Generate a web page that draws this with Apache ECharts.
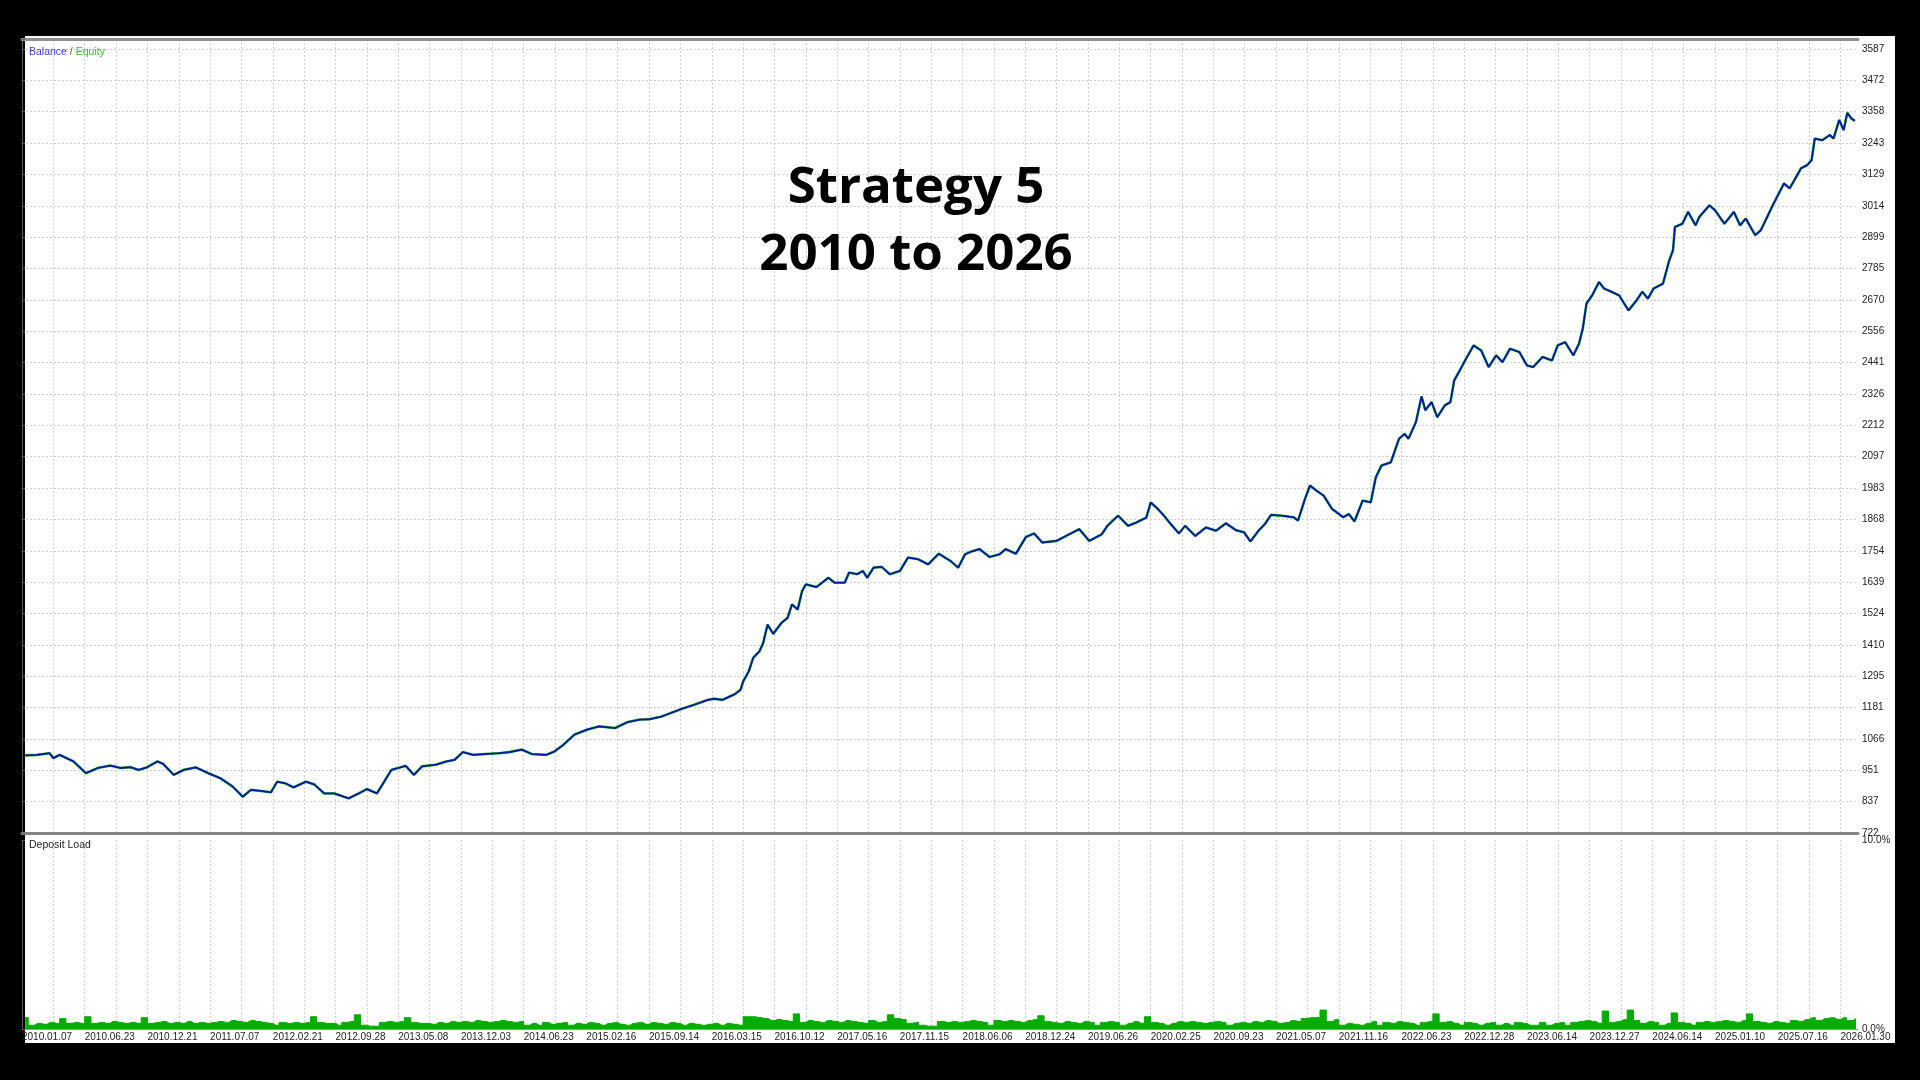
<!DOCTYPE html>
<html>
<head>
<meta charset="utf-8">
<title>Strategy 5</title>
<script src="https://cdn.jsdelivr.net/npm/echarts@6/dist/echarts.min.js"></script>
<style>
  html, body { margin: 0; padding: 0; background: #000; }
  #chart { width: 1920px; height: 1080px; }
</style>
</head>
<body>
<div id="chart"></div>
<script>
  // x axis: position along the test, one unit per date label
  var dateLabels = ['2010.01.07', '2010.06.23', '2010.12.21', '2011.07.07', '2012.02.21', '2012.09.28',
    '2013.05.08', '2013.12.03', '2014.06.23', '2015.02.16', '2015.09.14', '2016.03.15', '2016.10.12',
    '2017.05.16', '2017.11.15', '2018.06.06', '2018.12.24', '2019.06.26', '2020.02.25', '2020.09.23',
    '2021.05.07', '2021.11.16', '2022.06.23', '2022.12.28', '2023.06.14', '2023.12.27', '2024.06.14',
    '2025.01.10', '2025.07.16', '2026.01.30']

  // balance axis tick labels (MT5 shows them rounded)
  var balanceTicks = ['722', '837', '951', '1066', '1181', '1295', '1410', '1524', '1639', '1754', '1868',
    '1983', '2097', '2212', '2326', '2441', '2556', '2670', '2785', '2899', '3014', '3129', '3243',
    '3358', '3472', '3587']
  var yMin = 722.4
  var yStep = 114.6
  var yMax = 3623.9
  var xMax = 29.28

  var balanceX = [0.05, 0.24, 0.44, 0.5, 0.6, 0.82, 1.02, 1.21, 1.41, 1.57, 1.73, 1.86, 1.99, 2.16, 2.25,
    2.42, 2.58, 2.77, 2.97, 3.16, 3.36, 3.52, 3.65, 3.81, 3.97, 4.07, 4.2, 4.33, 4.53, 4.66, 4.82, 4.98,
    5.21, 5.37, 5.5, 5.66, 5.76, 5.89, 6.12, 6.25, 6.38, 6.6, 6.77, 6.9, 7.03, 7.19, 7.38, 7.61, 7.77,
    7.97, 8.13, 8.36, 8.49, 8.62, 8.81, 9.01, 9.2, 9.46, 9.66, 9.85,
    10.0, 10.2, 10.52, 10.72, 10.94, 11.04, 11.17, 11.37, 11.46, 11.5, 11.59, 11.66, 11.76, 11.82, 11.89,
    11.98, 12.11, 12.21, 12.28, 12.37, 12.44, 12.5, 12.67, 12.86, 12.96, 13.12, 13.19, 13.32, 13.41,
    13.48, 13.58, 13.71, 13.84, 14.0, 14.13, 14.29, 14.45, 14.62, 14.81, 14.93, 15.04, 15.14, 15.27,
    15.43, 15.59, 15.69, 15.85, 16.01, 16.14, 16.27, 16.5, 16.7, 16.86, 17.02, 17.22, 17.31, 17.48,
    17.64, 17.77, 17.93, 18.0, 18.09, 18.19, 18.32, 18.45, 18.55, 18.71, 18.88, 19.04, 19.2, 19.36,
    19.49, 19.59, 19.72, 19.82, 19.92,
    20.09, 20.28, 20.35, 20.46, 20.54, 20.64, 20.76, 20.89, 21.07, 21.16, 21.25, 21.38, 21.51, 21.59,
    21.68, 21.83, 21.96, 22.05, 22.11, 22.23, 22.32, 22.38, 22.48, 22.57, 22.69, 22.78, 22.84, 22.93,
    23.03, 23.15, 23.27, 23.39, 23.51, 23.61, 23.73, 23.88, 24.0, 24.1, 24.25, 24.4, 24.49, 24.61,
    24.74, 24.83, 24.89, 24.95, 25.04, 25.15, 25.23, 25.35, 25.47, 25.62, 25.75, 25.84, 25.93, 26.02,
    26.17, 26.27, 26.33, 26.36, 26.48, 26.57, 26.69, 26.75, 26.91, 27.0, 27.15, 27.3, 27.4, 27.49,
    27.64, 27.73, 27.82, 27.92, 28.1, 28.19, 28.28, 28.37, 28.47, 28.54, 28.59, 28.71, 28.83, 28.89,
    28.98, 29.05, 29.11, 29.17, 29.23]

  var balanceY = [1006, 1008, 1014, 996, 1008, 984, 941, 960, 969, 960, 963, 953, 962, 984, 975,
    935, 953, 962, 941, 923, 892, 855, 880, 876, 871, 910, 904, 889, 910, 900, 867, 867,
    849, 867, 883, 867, 904, 953, 968, 935, 966, 972, 984, 990, 1018, 1008, 1011, 1014, 1018,
    1027, 1011, 1008, 1020, 1042, 1082, 1100, 1112, 1106, 1128, 1137,
    1138, 1148, 1176, 1191, 1209, 1213, 1209, 1230, 1246, 1276, 1313, 1362, 1386, 1417, 1484,
    1450, 1490, 1509, 1558, 1539, 1606, 1631, 1621, 1655, 1637, 1637, 1674, 1668, 1680,
    1655, 1692, 1695, 1668, 1680, 1729, 1723, 1704, 1743, 1716, 1692, 1741, 1751, 1760,
    1731, 1741, 1760, 1743, 1804, 1817, 1784, 1790, 1814, 1833, 1790, 1814, 1845, 1882,
    1845, 1857, 1875, 1930, 1912, 1888, 1851, 1817, 1845, 1808, 1839, 1827, 1854, 1829,
    1821, 1788, 1827, 1851, 1885,
    1882, 1876, 1864, 1943, 1992, 1974, 1955, 1907, 1876, 1888, 1861, 1937, 1931, 2022,
    2065, 2077, 2163, 2181, 2163, 2224, 2318, 2267, 2297, 2242, 2285, 2297, 2376, 2413,
    2456, 2504, 2486, 2425, 2468, 2443, 2492, 2480, 2431, 2425, 2462, 2449, 2504, 2516,
    2468, 2510, 2565, 2657, 2687, 2736, 2712, 2700, 2687, 2632, 2669, 2700, 2675, 2712,
    2730, 2815, 2852, 2937, 2949, 2992, 2943, 2974, 3016, 2998, 2949, 2992, 2943, 2968,
    2907, 2925, 2968, 3016, 3096, 3078, 3114, 3151, 3163, 3181, 3260, 3254, 3273, 3260,
    3328, 3291, 3354, 3334, 3325]

  // equity runs on top of balance in this picture (only a green fringe shows)
  var equityY = balanceY

  // deposit load in %, one reading per 0.1 unit starting at 0.05
  var depositLoad = [
    0.6, 0.2, 0.3, 0.25, 0.35, 0.3, 0.55, 0.3, 0.35, 0.3,
    0.65, 0.3, 0.35, 0.3, 0.4, 0.35, 0.3, 0.35, 0.3, 0.6,
    0.3, 0.35, 0.4, 0.3, 0.35, 0.3, 0.4, 0.3, 0.35, 0.3,
    0.35, 0.4, 0.35, 0.45, 0.4, 0.35, 0.45, 0.4, 0.35, 0.3,
    0.2, 0.35, 0.3, 0.35, 0.3, 0.35, 0.65, 0.35, 0.3, 0.3,
    0.2, 0.35, 0.4, 0.75, 0.2, 0.15, 0.15, 0.35, 0.4, 0.35,
    0.4, 0.6, 0.35, 0.3, 0.3, 0.25, 0.35, 0.3, 0.4, 0.35,
    0.4, 0.35, 0.45, 0.4, 0.35, 0.4, 0.45, 0.4, 0.35, 0.4,
    0.2, 0.3, 0.2, 0.35, 0.25, 0.3, 0.35, 0.2, 0.3, 0.25,
    0.35, 0.3, 0.2, 0.3, 0.35, 0.25, 0.2, 0.3, 0.35, 0.25,
    0.35, 0.3, 0.25, 0.35, 0.3, 0.2, 0.3, 0.25, 0.2, 0.25,
    0.3, 0.2, 0.3, 0.25, 0.2, 0.65, 0.65, 0.6, 0.55, 0.45,
    0.5, 0.45, 0.4, 0.8, 0.35, 0.45, 0.4, 0.35, 0.45, 0.4,
    0.35, 0.45, 0.4, 0.35, 0.3, 0.45, 0.35, 0.4, 0.75, 0.55,
    0.5, 0.3, 0.35, 0.2, 0.15, 0.15, 0.4, 0.35, 0.4, 0.35,
    0.4, 0.45, 0.4, 0.35, 0.2, 0.45, 0.4, 0.45, 0.4, 0.35,
    0.45, 0.5, 0.7, 0.4, 0.35, 0.3, 0.4, 0.35, 0.3, 0.4,
    0.35, 0.2, 0.35, 0.4, 0.35, 0.2, 0.3, 0.4, 0.3, 0.65,
    0.35, 0.3, 0.2, 0.3, 0.4, 0.35, 0.4, 0.35, 0.3, 0.35,
    0.4, 0.35, 0.2, 0.3, 0.35, 0.3, 0.4, 0.35, 0.45, 0.4,
    0.3, 0.35, 0.45, 0.4, 0.55, 0.6, 0.6, 1.0, 0.4, 0.5,
    0.2, 0.3, 0.25, 0.2, 0.3, 0.4, 0.2, 0.35, 0.3, 0.4,
    0.35, 0.3, 0.2, 0.35, 0.4, 0.8, 0.35, 0.4, 0.3, 0.2,
    0.35, 0.3, 0.2, 0.3, 0.35, 0.2, 0.3, 0.2, 0.35, 0.3,
    0.2, 0.2, 0.35, 0.2, 0.3, 0.35, 0.2, 0.35, 0.4, 0.45,
    0.4, 0.3, 0.95, 0.35, 0.4, 0.5, 1.0, 0.45, 0.3, 0.4,
    0.35, 0.2, 0.3, 0.85, 0.35, 0.3, 0.2, 0.35, 0.4, 0.35,
    0.4, 0.45, 0.4, 0.35, 0.45, 0.8, 0.4, 0.35, 0.3, 0.4,
    0.35, 0.3, 0.45, 0.4, 0.5, 0.6, 0.45, 0.55, 0.6, 0.5,
    0.6, 0.45, 0.55]

  var balanceData = balanceX.map(function (x, i) { return [x, balanceY[i]] })
  var equityData = balanceX.map(function (x, i) { return [x, equityY[i]] })
  var depositData = depositLoad.map(function (v, i) { return [0.05 + i * 0.1, v] })

  var axisFont = 'Liberation Sans, Arial, sans-serif'
  var gridLine = { show: true, showMinLine: false, showMaxLine: false, lineStyle: { color: '#cfcfcf', type: [2, 2], width: 1 } }

  var myChart = echarts.init(document.getElementById('chart'))

  var option = {
    backgroundColor: '#000',
    animation: false,
    graphic: [
      // white MT5 panel behind both charts
      { type: 'rect', left: 25, top: 36, z: -10, silent: true, shape: { width: 1870, height: 1007 }, style: { fill: '#fff' } }
    ],
    title: [
      {
        text: 'Strategy 5\n2010 to 2026',
        left: 911, top: 150, textAlign: 'center',
        textStyle: { fontFamily: 'Open Sans', fontWeight: 700, fontSize: 51, lineHeight: 67, color: '#000' }
      },
      {
        text: '{b|Balance} / {e|Equity}',
        left: 24, top: 42,
        textStyle: {
          fontFamily: axisFont, fontSize: 10.5, fontWeight: 400, color: '#555',
          rich: {
            b: { color: '#3b3bd0', fontSize: 10.5, fontWeight: 400, fontFamily: axisFont },
            e: { color: '#30c030', fontSize: 10.5, fontWeight: 400, fontFamily: axisFont }
          }
        }
      },
      {
        text: 'Deposit Load',
        left: 24, top: 835,
        textStyle: { fontFamily: axisFont, fontSize: 10.5, fontWeight: 400, color: '#222' }
      }
    ],
    grid: [
      { left: 22, right: 62, top: 39, bottom: 247, outerBoundsMode: 'none' },
      { left: 22, right: 62, top: 840, bottom: 51, outerBoundsMode: 'none' }
    ],
    xAxis: [
      {
        gridIndex: 0, type: 'value', min: 0, max: xMax, interval: 0.5,
        axisLine: { show: true, onZero: false, lineStyle: { color: '#858585', width: 3 } },
        axisTick: { show: false }, axisLabel: { show: false },
        splitLine: gridLine
      },
      {
        gridIndex: 1, type: 'value', min: 0, max: xMax, interval: 0.5,
        axisLine: { show: true, onZero: false, lineStyle: { color: '#9a9a9a', width: 1 } },
        axisTick: { show: false },
        axisLabel: {
          align: 'left', margin: 3, fontSize: 10, fontFamily: axisFont, color: '#222',
          formatter: function (v) {
            var k = Math.round(v)
            if (Math.abs(v - k) > 0.01) return ''
            return dateLabels[k] || ''
          }
        },
        splitLine: gridLine
      },
      {
        // grey top border of the panel
        gridIndex: 0, type: 'value', position: 'top', min: 0, max: xMax,
        axisLine: { show: true, onZero: false, lineStyle: { color: '#8f8f8f', width: 3 } },
        axisTick: { show: false }, axisLabel: { show: false }, splitLine: { show: false }
      }
    ],
    yAxis: [
      {
        gridIndex: 0, type: 'value', position: 'right', min: yMin, max: yMax, interval: yStep,
        axisLine: { show: true, lineStyle: { color: '#5a5a5a', width: 1 } },
        axisTick: { show: true, length: 3, lineStyle: { color: '#5a5a5a' } },
        axisLabel: {
          margin: 4, fontSize: 10, fontFamily: axisFont, color: '#222',
          formatter: function (v) {
            var k = Math.round((v - yMin) / yStep)
            if (Math.abs(v - (yMin + k * yStep)) > 1) return ''
            return balanceTicks[k] || ''
          }
        },
        splitLine: gridLine
      },
      {
        gridIndex: 1, type: 'value', position: 'right', min: 0, max: 10, interval: 10,
        axisLine: { show: true, lineStyle: { color: '#5a5a5a', width: 1 } },
        axisTick: { show: true, length: 3, lineStyle: { color: '#5a5a5a' } },
        axisLabel: {
          margin: 4, fontSize: 10, fontFamily: axisFont, color: '#222',
          formatter: function (v) { return v.toFixed(1) + '%' }
        },
        splitLine: { show: false }
      }
    ],
    series: [
      {
        name: 'Equity', type: 'line', xAxisIndex: 0, yAxisIndex: 0,
        showSymbol: false, z: 2,
        lineStyle: { color: '#1fc21f', width: 2.6 },
        data: equityData
      },
      {
        name: 'Balance', type: 'line', xAxisIndex: 0, yAxisIndex: 0,
        showSymbol: false, z: 3,
        lineStyle: { color: '#0a14a8', width: 1.8 },
        data: balanceData
      },
      {
        name: 'Deposit Load', type: 'line', xAxisIndex: 1, yAxisIndex: 1,
        step: 'middle', showSymbol: false,
        lineStyle: { color: '#00ad00', width: 1 },
        areaStyle: { color: '#00ad00', opacity: 1 },
        data: depositData
      }
    ]
  }

  myChart.setOption(option)
</script>
</body>
</html>
